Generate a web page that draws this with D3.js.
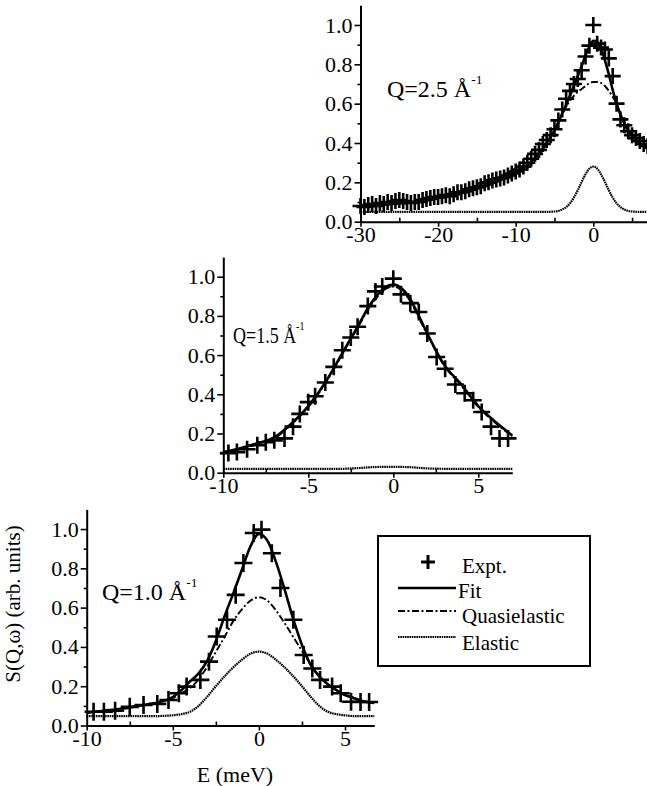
<!DOCTYPE html>
<html><head><meta charset="utf-8">
<script src="https://cdn.jsdelivr.net/npm/d3@7"></script>
<style>
html,body{margin:0;padding:0;background:#fff;}
svg{display:block;}
</style></head><body>
<svg id="chart" width="647" height="786"></svg>
<script>
// ---- Q = 2.5 Å^-1 ----
const q25ExptE = [-30,-29.5,-29,-28.5,-28,-27.5,-27,-26.5,-26,-25.5,-25,-24.5,-24,-23.5,-23,-22.5,-22,-21.5,-21,-20.5,-20,-19.5,-19,-18.5,-18,-17.5,-17,-16.5,-16,-15.5,-15,-14.5,-14,-13.5,-13,-12.5,-12,-11.5,-11,-10.5,-10,-9.5,-9,-8.5,-8,-7.5,-7,-6.5,-6,-5.5,-5,-4.5,-4,-3.5,-3,-2.5,-2,-1.5,-1,-0.5,0,0.5,1,1.5,2,2.5,3,3.5,4,4.5,5,5.5,6,6.5,7];
const q25ExptS = [0.08,0.075,0.085,0.09,0.08,0.095,0.09,0.1,0.095,0.105,0.11,0.105,0.1,0.095,0.1,0.1,0.11,0.115,0.12,0.125,0.125,0.13,0.135,0.13,0.14,0.15,0.15,0.155,0.165,0.17,0.175,0.18,0.195,0.2,0.21,0.215,0.22,0.225,0.235,0.245,0.255,0.265,0.28,0.3,0.32,0.345,0.365,0.395,0.415,0.44,0.47,0.515,0.57,0.625,0.665,0.7,0.725,0.77,0.84,0.895,1.0,0.905,0.885,0.875,0.83,0.74,0.6,0.52,0.49,0.46,0.44,0.425,0.41,0.395,0.385];
const q25CurveE = [-30,-28,-26,-24,-22,-20,-18,-16,-14,-12,-10,-9,-8,-7,-6,-5,-4,-3.5,-3,-2.5,-2,-1.5,-1,-0.5,0,0.5,1,1.5,2,2.5,3,3.5,4,4.5,5,6,7];
const q25Fit   = [0.075,0.08,0.09,0.095,0.105,0.12,0.135,0.155,0.18,0.21,0.25,0.275,0.305,0.345,0.4,0.465,0.55,0.595,0.64,0.69,0.74,0.79,0.845,0.89,0.92,0.915,0.88,0.82,0.75,0.67,0.6,0.545,0.5,0.465,0.44,0.4,0.37];
const q25Quasi = [0.075,0.08,0.09,0.095,0.105,0.12,0.135,0.155,0.18,0.21,0.25,0.275,0.305,0.345,0.4,0.46,0.545,0.585,0.615,0.64,0.66,0.675,0.69,0.705,0.71,0.71,0.705,0.69,0.665,0.635,0.6,0.545,0.5,0.465,0.44,0.4,0.37];
const q25ElasticE = [-30,-6,-5,-4.5,-4,-3.5,-3,-2.5,-2,-1.5,-1,-0.5,0,0.5,1,1.5,2,2.5,3,3.5,4,4.5,5,6,7];
const q25Elastic  = [0.05,0.05,0.052,0.055,0.062,0.074,0.094,0.123,0.16,0.202,0.241,0.27,0.28,0.27,0.241,0.202,0.16,0.123,0.094,0.074,0.062,0.055,0.052,0.05,0.05];

// ---- Q = 1.5 Å^-1 ----
const q15ExptE = [-9.7,-9.2,-8.6,-8.0,-7.5,-7.0,-6.4,-5.9,-5.5,-5.0,-4.6,-4.0,-3.5,-3.0,-2.5,-2.1,-1.5,-1.05,-0.65,0,0.45,1.0,1.5,2.0,2.55,3.05,3.65,4.2,4.7,5.2,5.75,6.25,6.75];
const q15ExptS = [0.1,0.105,0.12,0.14,0.155,0.165,0.175,0.235,0.3,0.36,0.39,0.46,0.54,0.625,0.69,0.745,0.85,0.925,0.95,0.99,0.91,0.865,0.82,0.71,0.59,0.53,0.45,0.405,0.37,0.31,0.235,0.175,0.175];
const q15CurveE = [-10,-9,-8,-7,-6,-5,-4,-3,-2,-1.5,-1,-0.5,0,0.5,1,1.5,2,3,4,5,6,7];
const q15Fit   = [0.105,0.125,0.15,0.18,0.25,0.34,0.46,0.61,0.76,0.84,0.9,0.945,0.96,0.94,0.885,0.8,0.71,0.55,0.45,0.34,0.26,0.19];
const q15Quasi = [0.1,0.12,0.145,0.175,0.245,0.335,0.455,0.605,0.755,0.83,0.89,0.935,0.95,0.93,0.875,0.79,0.705,0.545,0.445,0.335,0.255,0.185];
const q15ElasticE = [-10,-3,-2,-1,0,1,2,3,7];
const q15Elastic  = [0.02,0.02,0.024,0.029,0.03,0.028,0.022,0.02,0.02];

// ---- Q = 1.0 Å^-1 ----
const q10ExptE = [-9.6,-9.0,-8.35,-7.5,-6.7,-5.9,-5.25,-4.65,-4.2,-3.4,-2.9,-2.45,-1.85,-1.35,-0.9,-0.3,0.15,0.75,1.25,2.0,2.6,3.1,3.55,4.25,4.75,5.35,5.9,6.4];
const q10ExptS = [0.07,0.07,0.075,0.095,0.104,0.11,0.13,0.164,0.198,0.232,0.325,0.453,0.538,0.665,0.827,0.98,0.997,0.877,0.7,0.538,0.359,0.29,0.232,0.198,0.164,0.121,0.12,0.12];
const q10CurveE = [-10,-9,-8,-7,-6,-5,-4.5,-4,-3.5,-3,-2.5,-2,-1.5,-1,-0.5,0,0.5,1,1.5,2,2.5,3,3.5,4,4.5,5,5.5,6,6.7];
const q10Fit     = [0.065,0.075,0.085,0.1,0.115,0.145,0.18,0.225,0.265,0.33,0.43,0.555,0.67,0.79,0.91,0.975,0.94,0.83,0.69,0.54,0.41,0.31,0.25,0.21,0.18,0.155,0.14,0.125,0.115];
const q10Quasi   = [0.065,0.075,0.085,0.1,0.115,0.14,0.165,0.19,0.235,0.3,0.375,0.45,0.53,0.59,0.635,0.653,0.635,0.585,0.52,0.45,0.38,0.31,0.25,0.21,0.18,0.155,0.14,0.125,0.115];
const q10Elastic = [0.048,0.048,0.048,0.048,0.048,0.052,0.058,0.07,0.1,0.147,0.2,0.25,0.295,0.334,0.365,0.376,0.365,0.334,0.295,0.25,0.2,0.147,0.1,0.07,0.058,0.052,0.048,0.048,0.048];

// ---- axis ticks and labels ----
const yMajorTicks = [0, 0.2, 0.4, 0.6, 0.8, 1.0];
const yMinorTicks = [0.1, 0.3, 0.5, 0.7, 0.9];
const q25XTicks = [-30, -20, -10, 0];
const q25XMinor = [-25, -15, -5, 5];
const narrowXTicks = [-10, -5, 0, 5];
const narrowXMinor = [-7.5, -2.5, 2.5];
const legendLabels = ["Expt.", "Fit", "Quasielastic", "Elastic"];

const FONT = "'Liberation Serif','Times New Roman',Times,serif";
const svg = d3.select("#chart");

const STYLE = {
  fit:     { width: 2.6, dash: null },
  quasi:   { width: 1.9, dash: "7,2.5,2,2.5" },
  elastic: { width: 2.2, dash: "1.6,0.7" }
};

function drawPanel(p) {
  const x = d3.scaleLinear().domain(p.xDomain).range(p.xRange);
  const y = d3.scaleLinear().domain([0, 1.1]).range(p.yRange);
  const g = svg.append("g");

  const path = (xs, ys) => d3.line()
      .x((d, i) => x(xs[i]))
      .y(d => y(d))
      .curve(d3.curveMonotoneX)(ys);

  const curves = [
    [p.elasticE, p.elastic, STYLE.elastic],
    [p.curveE, p.quasi, STYLE.quasi],
    [p.curveE, p.fit, STYLE.fit]
  ];
  curves.forEach(([xs, ys, st]) => {
    g.append("path")
      .attr("d", path(xs, ys))
      .attr("fill", "none")
      .attr("stroke", "#000")
      .attr("stroke-width", st.width)
      .attr("stroke-dasharray", st.dash);
  });

  // experimental points as crosses
  const h = p.cross;
  g.append("g").selectAll("path")
    .data(p.exptS)
    .join("path")
    .attr("transform", (d, i) => `translate(${x(p.exptE[i])},${y(d)})`)
    .attr("d", `M${-h},0H${h}M0,${-h}V${h}`)
    .attr("stroke", "#000")
    .attr("stroke-width", 2.6)
    .attr("fill", "none");

  // axes
  const yAxis = g.append("g").attr("transform", `translate(${p.xRange[0]},0)`)
    .call(d3.axisLeft(y).tickValues(yMajorTicks).tickFormat(d3.format(".1f"))
      .tickSize(6).tickPadding(2).tickSizeOuter(0));
  const yMinor = g.append("g").attr("transform", `translate(${p.xRange[0]},0)`)
    .call(d3.axisLeft(y).tickValues(yMinorTicks).tickFormat("").tickSize(3).tickSizeOuter(0));
  yMinor.select(".domain").remove();

  const xAxis = g.append("g").attr("transform", `translate(0,${p.yRange[0]})`)
    .call(d3.axisBottom(x).tickValues(p.xTicks).tickFormat(d => String(d))
      .tickSize(5).tickPadding(0).tickSizeOuter(0));
  const xMinor = g.append("g").attr("transform", `translate(0,${p.yRange[0]})`)
    .call(d3.axisBottom(x).tickValues(p.xMinor).tickFormat("").tickSize(-4).tickSizeOuter(0));
  xMinor.select(".domain").remove();

  [yAxis, yMinor, xAxis, xMinor].forEach(a => {
    a.attr("font-family", FONT).attr("font-size", 22);
    a.selectAll(".domain").attr("stroke", "#000").attr("stroke-width", 2);
    a.selectAll(".tick line").attr("stroke", "#000").attr("stroke-width", 1.6);
    a.selectAll(".tick text").attr("fill", "#000");
  });

  // Q label with superscript
  const t = g.append("text")
    .attr("transform", `translate(${p.label.x},${p.label.y}) scale(${p.label.sx},1)`)
    .attr("font-family", FONT).attr("font-size", p.label.size)
    .attr("fill", "#000");
  t.append("tspan").text(p.label.text);
  t.append("tspan").attr("dy", -0.55 * p.label.size).attr("font-size", p.label.size * 0.56).text("-1");
}

drawPanel({
  xDomain: [-30, 7], xRange: [360.5, 647.6], yRange: [221.7, 5.3],
  xTicks: q25XTicks, xMinor: q25XMinor, cross: 8,
  exptE: q25ExptE, exptS: q25ExptS,
  curveE: q25CurveE, fit: q25Fit, quasi: q25Quasi,
  elasticE: q25ElasticE, elastic: q25Elastic,
  label: { text: "Q=2.5 Å", x: 387, y: 97, size: 24, sx: 1 }
});

drawPanel({
  xDomain: [-10, 7], xRange: [223.3, 512.3], yRange: [472.7, 257.1],
  xTicks: narrowXTicks, xMinor: narrowXMinor, cross: 8.5,
  exptE: q15ExptE, exptS: q15ExptS,
  curveE: q15CurveE, fit: q15Fit, quasi: q15Quasi,
  elasticE: q15ElasticE, elastic: q15Elastic,
  label: { text: "Q=1.5 Å", x: 233, y: 343, size: 24, sx: 0.75 }
});

drawPanel({
  xDomain: [-10, 6.7], xRange: [86.7, 374.3], yRange: [725.5, 509.4],
  xTicks: narrowXTicks, xMinor: narrowXMinor, cross: 9,
  exptE: q10ExptE, exptS: q10ExptS,
  curveE: q10CurveE, fit: q10Fit, quasi: q10Quasi,
  elasticE: q10CurveE, elastic: q10Elastic,
  label: { text: "Q=1.0 Å", x: 102, y: 600, size: 24, sx: 1 }
});

// axis titles
svg.append("text")
  .attr("transform", "translate(20,604) rotate(-90)")
  .attr("text-anchor", "middle")
  .attr("font-family", FONT).attr("font-size", 21).attr("fill", "#000")
  .text("S(Q,ω) (arb. units)");
svg.append("text")
  .attr("x", 235).attr("y", 782)
  .attr("text-anchor", "middle")
  .attr("font-family", FONT).attr("font-size", 22).attr("fill", "#000")
  .text("E (meV)");

// legend
const leg = svg.append("g");
leg.append("rect").attr("x", 378).attr("y", 536).attr("width", 212).attr("height", 130)
  .attr("fill", "#fff").attr("stroke", "#000").attr("stroke-width", 2);
const rows = [
  { y: 562, text: 573, kind: "cross" },
  { y: 588, text: 598, kind: "fit" },
  { y: 611, text: 623, kind: "quasi" },
  { y: 637, text: 650, kind: "elastic" }
];
rows.forEach((r, i) => {
  if (r.kind === "cross") {
    leg.append("path").attr("d", `M${428 - 7},${r.y}H${428 + 7}M428,${r.y - 7}V${r.y + 7}`)
      .attr("stroke", "#000").attr("stroke-width", 3);
  } else {
    const st = STYLE[r.kind];
    leg.append("line").attr("x1", 398).attr("x2", 456).attr("y1", r.y).attr("y2", r.y)
      .attr("stroke", "#000").attr("stroke-width", st.width).attr("stroke-dasharray", st.dash);
  }
  leg.append("text").attr("x", i === 1 ? 458 : 462).attr("y", r.text)
    .attr("font-family", FONT).attr("font-size", 21).attr("fill", "#000")
    .text(legendLabels[i]);
});
</script>
</body></html>
